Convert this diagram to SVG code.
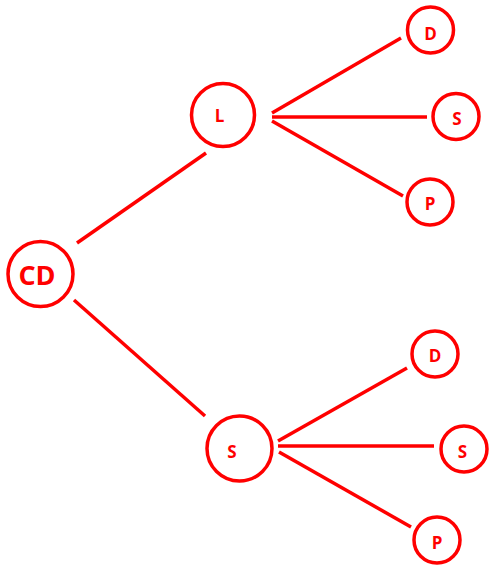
<svg xmlns="http://www.w3.org/2000/svg" width="490" height="567" viewBox="0 0 490 567">
<style>
.n{fill:none;stroke:#FF0000;stroke-width:3.5}
.e line{stroke:#FF0000;stroke-width:3.5}
text{font-family:"Open Sans","Liberation Sans",sans-serif;font-weight:bold;fill:#FF0000;text-anchor:middle}
.s{font-size:17px}
.b{font-size:27px}
</style>
<rect width="490" height="567" fill="#fff"/>
<g id="connectors" class="e">
<line x1="77" y1="243" x2="206" y2="153"/>
<line x1="74" y1="300" x2="205" y2="416"/>
<line x1="272" y1="113" x2="401" y2="38"/>
<line x1="272" y1="117" x2="427" y2="117"/>
<line x1="272" y1="121" x2="403" y2="196"/>
<line x1="278" y1="441" x2="407" y2="368"/>
<line x1="278" y1="446" x2="434" y2="446"/>
<line x1="279" y1="452" x2="411" y2="527"/>
</g>
<g id="CD"><circle class="n" cx="40.5" cy="274" r="32.5"/><text class="b" x="37" y="284.5">CD</text></g>
<g id="L"><circle class="n" cx="223" cy="115" r="31.5"/><text class="s" x="219.5" y="122">L</text></g>
<g id="S"><circle class="n" cx="239.5" cy="448.5" r="32.5"/><text class="s" x="232" y="458">S</text></g>
<g id="D1"><circle class="n" cx="430.5" cy="30" r="23"/><text class="s" x="430.5" y="40">D</text></g>
<g id="S1"><circle class="n" cx="456" cy="116.5" r="23"/><text class="s" x="457" y="124.5">S</text></g>
<g id="P1"><circle class="n" cx="430" cy="202" r="23"/><text class="s" x="430" y="209.5">P</text></g>
<g id="D2"><circle class="n" cx="435" cy="354" r="23"/><text class="s" x="435" y="361.5">D</text></g>
<g id="S2"><circle class="n" cx="464" cy="449" r="23"/><text class="s" x="462.5" y="457.5">S</text></g>
<g id="P2"><circle class="n" cx="437" cy="540" r="23"/><text class="s" x="437" y="548.5">P</text></g>
</svg>
